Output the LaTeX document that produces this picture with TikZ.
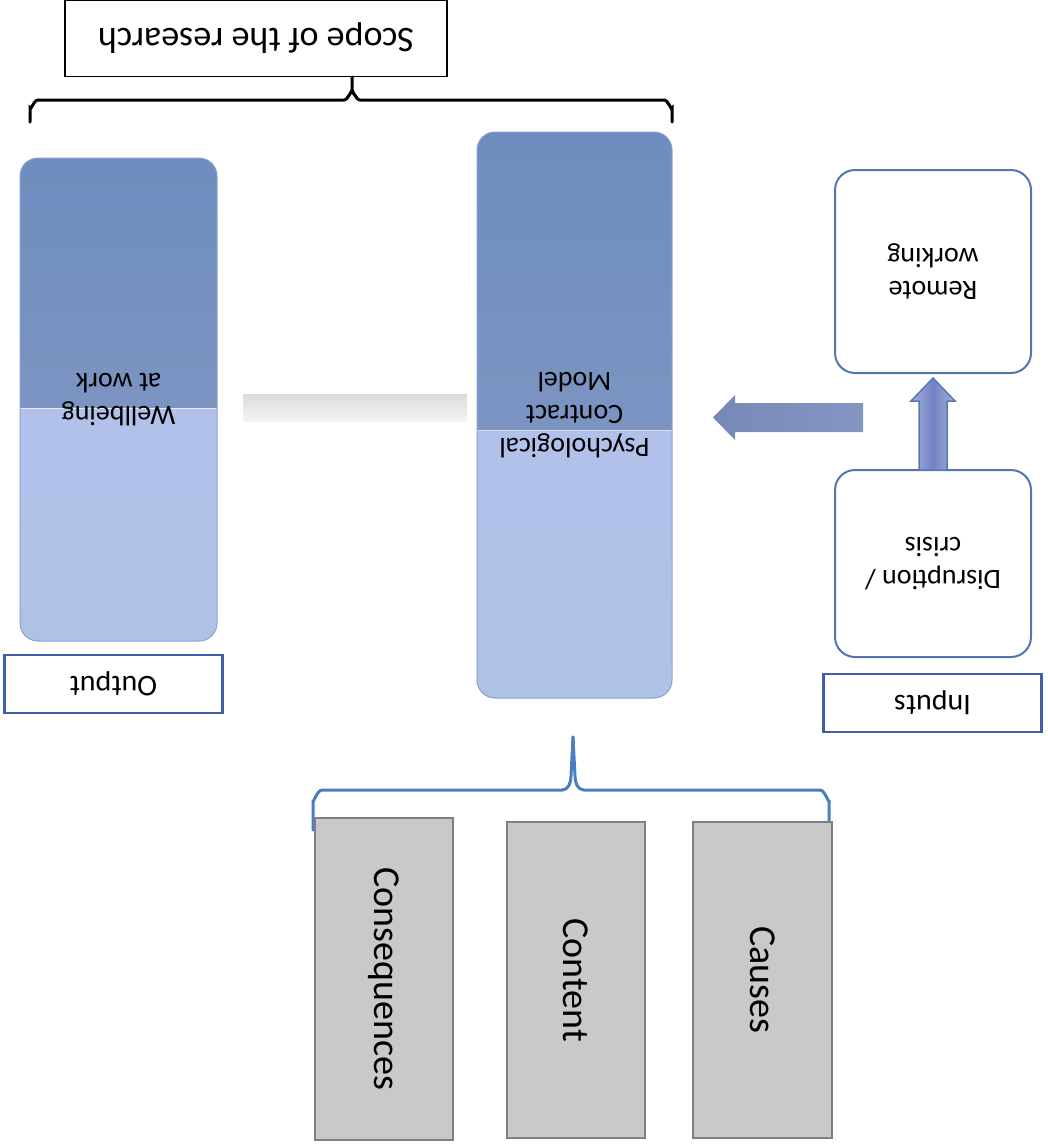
\documentclass[tikz,border=0pt]{standalone}
\usepackage{fontspec}
\setmainfont{Carlito}
\usetikzlibrary{calc}

\definecolor{darktop}{HTML}{6E8DBE}
\definecolor{darkbot}{HTML}{7C94C2}
\definecolor{lighttop}{HTML}{B2C1EA}
\definecolor{lightbot}{HTML}{AFC2E6}
\definecolor{softedge}{HTML}{86A1D2}
\definecolor{frameblue}{HTML}{3F5FA8}
\definecolor{roundblue}{HTML}{5474B2}
\definecolor{bracesblue}{HTML}{4B7DC3}
\definecolor{arrowblue}{HTML}{7F90C0}
\definecolor{arrowedge}{HTML}{5A78B8}
\definecolor{greyfill}{HTML}{C9C9C9}
\definecolor{greyedge}{HTML}{7F7F7F}

\tikzset{
  flip/.style={rotate=180, align=center, text=black},
  labelbox/.style={flip, draw=frameblue, line width=2.2pt, fill=white,
    font=\fontsize{30}{34}\selectfont},
  stagebox/.style={flip, draw=softedge, line width=1pt, rounded corners=18pt,
    font=\fontsize{28}{33}\selectfont},
  whitebox/.style={flip, draw=roundblue, line width=2pt, fill=white, rounded corners=20pt,
    font=\fontsize{28}{33}\selectfont},
  greybox/.style={draw=greyedge, line width=1.5pt, fill=greyfill, rotate=-90,
    font=\fontsize{38}{42}\selectfont},
}

\begin{document}
\begin{tikzpicture}[x=1pt, y=-1pt]
\useasboundingbox (0,0) rectangle (1048,1146);

% title box and its black brace
\node[flip, draw=black, line width=1.5pt, minimum width=382pt, minimum height=76pt,
  font=\fontsize{36}{40}\selectfont] (scope) at (256,38.5) {Scope of the research};
\draw[line width=3pt, line cap=round] (30,122) -- (30,108) to[out=-90,in=180] (38,100)
  -- (344,100) to[out=0,in=90] (352,92) -- (352,77);
\draw[line width=3pt, line cap=round] (672,122) -- (672,108) to[out=-90,in=0] (664,100)
  -- (360,100) to[out=180,in=90] (352,92);

% two-tone stage boxes
\begin{scope}
  \clip[rounded corners=18pt] (20,158) rectangle (217,641);
  \shade[top color=darktop, bottom color=darkbot] (20,158) rectangle (217,408);
  \shade[top color=lighttop, bottom color=lightbot] (20,408) rectangle (217,641);
  \draw[white, opacity=0.7, line width=1pt] (20,408.5) -- (217,408.5);
\end{scope}
\node[stagebox, minimum width=197pt, minimum height=483pt] (well) at (118.5,399.5)
  {Wellbeing\\at work};

\begin{scope}
  \clip[rounded corners=18pt] (477,132) rectangle (672,698);
  \shade[top color=darktop, bottom color=darkbot] (477,132) rectangle (672,430);
  \shade[top color=lighttop, bottom color=lightbot] (477,430) rectangle (672,698);
  \draw[white, opacity=0.5, line width=1pt] (477,430.5) -- (672,430.5);
\end{scope}
\node[stagebox, minimum width=195pt, minimum height=566pt] (pcm) at (574.5,415)
  {Psychological\\Contract\\Model};

% label boxes
\node[labelbox, minimum width=218pt, minimum height=58pt] (output) at (113.5,684) {Output};
\node[labelbox, minimum width=218pt, minimum height=58pt] (inputs) at (932.5,703) {Inputs};

% input boxes
\node[whitebox, minimum width=196pt, minimum height=203pt] (remote) at (933,271.5)
  {Remote\\working};
\node[whitebox, minimum width=196pt, minimum height=187pt] (disrupt) at (933,563.5)
  {Disruption /\\crisis};

% faint bar between the stage boxes
\shade[top color=gray!40, bottom color=gray!12, opacity=0.7]
  (467,394) rectangle (243,421);

% block arrow from inputs into the model
\shade[left color=arrowblue!95!black, right color=arrowblue!95!white]
  (863,403) -- (735,403) -- (735,395) -- (713,417.5) -- (735,440) -- (735,432)
  -- (863,432) -- cycle;

% block arrow from disruption up to remote working
\shade[left color=arrowblue!70!white, right color=arrowblue!70!white,
  middle color=arrowblue!90!blue, draw=arrowedge, line width=1.5pt]
  (919,470) -- (919,401) -- (911,401) -- (933,378) -- (955,401)
  -- (947,401) -- (947,470) -- cycle;

% blue brace and the three component boxes
\draw[bracesblue, line width=3pt, line cap=round] (313,830) -- (313,800) to[out=-90,in=180] (322,790)
  -- (562,790) to[out=0,in=-90] (571,776) -- (573,737);
\draw[bracesblue, line width=3pt, line cap=round] (829,830) -- (829,800) to[out=-90,in=0] (820,790)
  -- (584,790) to[out=180,in=-90] (575,776) -- (573,737);

\node[greybox, minimum width=322pt, minimum height=138pt] (cons) at (384,979) {Consequences};
\node[greybox, minimum width=316pt, minimum height=138pt] (cont) at (576,980) {Content};
\node[greybox, minimum width=316pt, minimum height=139pt] (caus) at (762.5,980) {Causes};
\end{tikzpicture}
\end{document}
